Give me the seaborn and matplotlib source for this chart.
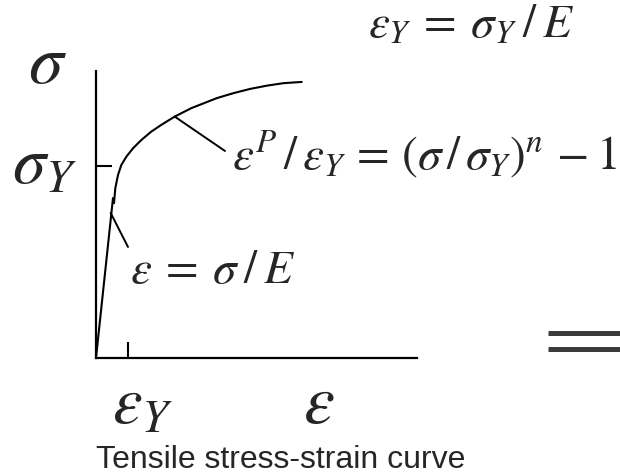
import matplotlib
matplotlib.use("Agg")
import matplotlib.pyplot as plt
import seaborn as sns
import pandas as pd
from matplotlib.lines import Line2D

# Strain in units of the yield strain, stress in units of the yield stress
elastic_strain = [0.0, 0.531]
elastic_stress = [0.0, 0.833]
plastic_strain = [0.5625, 0.603, 0.6875, 0.791, 0.947, 1.156, 1.416, 1.728, 2.041,
                  2.459, 2.978, 3.772, 4.291, 4.8125, 5.334, 5.853, 6.428]
plastic_stress = [0.806, 0.884, 0.953, 1.005, 1.048, 1.092, 1.135, 1.179, 1.214,
                  1.257, 1.301, 1.353, 1.379, 1.401, 1.418, 1.431, 1.4375]
yield_strain = [1.0]
yield_stress = [1.0]

sigma_label = r"$\sigma$"
sigma_y_label = r"$\sigma_Y$"
eps_label = r"$\varepsilon$"
eps_y_label = r"$\varepsilon_Y$"
elastic_law = r"$\varepsilon\:=\:\sigma\:/\:E$"
yield_law = r"$\varepsilon_Y\:=\:\sigma_Y\:/\:E$"
hardening_law = r"$\varepsilon^P\,/\,\varepsilon_Y\,=\,(\sigma\,/\,\sigma_Y)^n\,-1$"
caption = "Tensile stress-strain curve"

sns.set_style("white")
plt.rcParams["mathtext.fontset"] = "stix"
plt.rcParams["font.family"] = ["Liberation Sans", "DejaVu Sans"]

W, H = 620, 474
fig = plt.figure(figsize=(W / 100, H / 100), dpi=100)
ax = fig.add_axes([96 / W, 116 / H, 320.7 / W, 287.3 / H])
ax.set_xlim(0, 10.02)
ax.set_ylim(0, 1.496)

elastic = pd.DataFrame({"strain": elastic_strain, "stress": elastic_stress})
plastic = pd.DataFrame({"strain": plastic_strain, "stress": plastic_stress})
sns.lineplot(data=elastic, x="strain", y="stress", sort=False, color="black",
             lw=1.5, ax=ax)
sns.lineplot(data=plastic, x="strain", y="stress", sort=False, color="black",
             lw=1.5, ax=ax)

# leader lines from the curve to the two laws
ax.plot([2.459, 4.03], [1.257, 1.078], color="black", lw=1.4, clip_on=False)
ax.plot([0.459, 1.0], [0.755, 0.578], color="black", lw=1.4, clip_on=False)

for side in ["top", "right"]:
    ax.spines[side].set_visible(False)
for side in ["left", "bottom"]:
    ax.spines[side].set_linewidth(1.6)
    ax.spines[side].set_color("black")

ax.set_xticks(yield_strain)
ax.set_yticks(yield_stress)
ax.set_xticklabels([])
ax.set_yticklabels([])
ax.tick_params(axis="both", direction="in", length=11.5, width=1.5, color="black",
               bottom=True, left=True)
ax.set_xlabel("")
ax.set_ylabel("")

big = 50
mid = 34
ax.text(-1.53, 1.432, sigma_label, fontsize=big, ha="center", va="baseline", clip_on=False)
ax.text(-0.594, 0.911, sigma_y_label, fontsize=48, ha="right", va="baseline", clip_on=False)
ax.text(0.5, -0.339, eps_y_label, fontsize=48, ha="left", va="baseline", clip_on=False)
ax.text(6.97, -0.339, eps_label, fontsize=big, ha="center", va="baseline", clip_on=False)
ax.text(1.0625, 0.39, elastic_law, fontsize=mid, ha="left", va="baseline", clip_on=False)
ax.text(8.5, 1.667, yield_law, fontsize=mid, ha="left", va="baseline", clip_on=False)
ax.text(4.25, 0.979, hardening_law, fontsize=mid, ha="left", va="baseline", clip_on=False)
ax.text(0.0, -0.572, caption, fontsize=23, ha="left", va="baseline", clip_on=False)

# double bar at the right edge
for yp in (333, 348.5):
    fig.add_artist(Line2D([548 / W, 1.0], [1 - yp / H, 1 - yp / H],
                          transform=fig.transFigure, color="#3c3c3c", lw=3.6,
                          solid_capstyle="butt"))

fig.savefig("out.png", dpi=100)
